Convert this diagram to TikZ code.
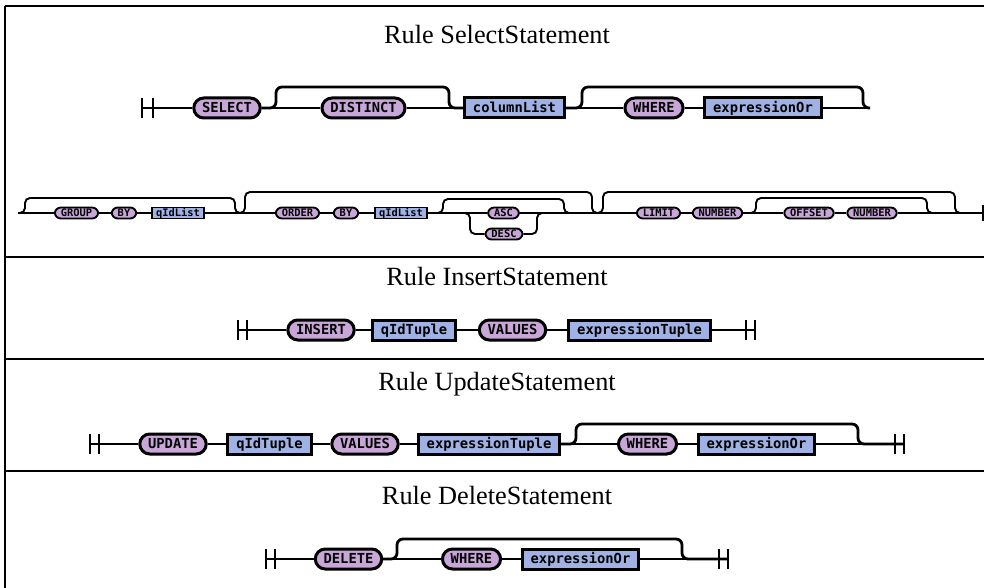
\documentclass[tikz,border=0pt]{standalone}
\usepackage{fontspec}
\setmainfont{Liberation Serif}
\setmonofont{DejaVu Sans Mono}
\definecolor{termfill}{RGB}{200,166,216}
\definecolor{ntfill}{RGB}{160,178,228}

\begin{document}
\begin{tikzpicture}[x=1pt,y=-1pt,
    frame/.style={line width=1.3pt},
    title/.style={anchor=base,font=\fontsize{26.3}{30}\selectfont},
    rail/.style={line width=2.8pt},
    srail/.style={line width=1.9pt},
    term/.style={draw,fill=termfill,rounded corners=10pt,line width=3pt,
        minimum height=20pt,inner xsep=8.3pt,inner ysep=0pt,
        text height=9pt,text depth=0pt,
        font=\ttfamily\bfseries\fontsize{13.8}{14}\selectfont},
    nterm/.style={term,fill=ntfill,rounded corners=0pt,inner xsep=8.3pt},
    sterm/.style={draw,fill=termfill,rounded corners=6pt,line width=1.9pt,
        minimum height=11pt,inner xsep=6pt,inner ysep=0pt,
        text height=7pt,text depth=0pt,
        font=\ttfamily\bfseries\fontsize{10.4}{11}\selectfont},
    snterm/.style={sterm,fill=ntfill,rounded corners=0pt,inner xsep=4pt}]
\useasboundingbox (0,0) rectangle (984,588);

% table lines
\draw[frame] (5,6) -- (984,6);
\draw[frame] (5,6) -- (5,588);
\draw[frame] (5,257) -- (984,257);
\draw[frame] (5,359) -- (984,359);
\draw[frame] (5,471) -- (984,471);

% titles
\node[title] (t1) at (497,44) {Rule SelectStatement};
\node[title] (t2) at (497,285) {Rule InsertStatement};
\node[title] (t3) at (497,390) {Rule UpdateStatement};
\node[title] (t4) at (497,504) {Rule DeleteStatement};

% SelectStatement, first line
\draw[rail] (142,98) -- (142,118);
\draw[rail] (153,98) -- (153,118);
\coordinate (s1) at (142,108);
\coordinate (r1e) at (870,108);
\node[term] (sel) at (227,108) {SELECT};
\node[term] (dist) at (363.5,108) {DISTINCT};
\node[nterm] (collist) at (514.5,108) {columnList};
\node[term] (where1) at (654,108) {WHERE};
\node[nterm] (expr1) at (763,108) {expressionOr};
\draw[rail] (s1) -- (sel) -- (dist) -- (collist) -- (where1) -- (expr1) -- (r1e);
\draw[rail,rounded corners=6pt] (sel.east) -| (276,87) -| (449,108) -- (collist.west);
\draw[rail,rounded corners=6pt] (collist.east) -| (582,87) -| (863,108) -- (r1e);

% SelectStatement, second line
\coordinate (r2s) at (18,213);
\coordinate (r2e) at (983,213);
\draw[srail] (983,205) -- (983,221);
\node[sterm] (grp) at (76.5,213) {GROUP};
\node[sterm] (by1) at (124,213) {BY};
\node[snterm] (qid1) at (178,213) {qIdList};
\node[sterm] (ord) at (297.5,213) {ORDER};
\node[sterm] (by2) at (346,213) {BY};
\node[snterm] (qid2) at (401,213) {qIdList};
\node[sterm] (asc) at (503.5,213) {ASC};
\node[sterm] (desc) at (504,234) {DESC};
\node[sterm] (lim) at (658.5,213) {LIMIT};
\node[sterm] (num1) at (717.5,213) {NUMBER};
\node[sterm] (off) at (809,213) {OFFSET};
\node[sterm] (num2) at (872,213) {NUMBER};
\draw[srail] (r2s) -- (grp) -- (by1) -- (qid1) -- (ord) -- (by2) -- (qid2) -- (asc) -- (lim)
    -- (num1) -- (off) -- (num2) -- (r2e);
\draw[srail,rounded corners=5pt] (r2s) -| (25,198) -| (235,213) -- (ord.west);
\draw[srail,rounded corners=5pt] (qid1.east) -| (245,192) -| (592,213) -- (lim.west);
\draw[srail,rounded corners=5pt] (qid2.east) -| (443,199) -| (564,213) -- (lim.west);
\draw[srail,rounded corners=5pt] (qid2.east) -| (470,234) -- (desc.west);
\draw[srail,rounded corners=5pt] (desc.east) -| (537,213) -- (lim.west);
\draw[srail,rounded corners=5pt] (asc.east) -| (603,192) -| (955,213) -- (r2e);
\draw[srail,rounded corners=5pt] (num1.east) -| (756,198) -| (927,213) -- (r2e);

% InsertStatement
\draw[rail] (238,320) -- (238,340);
\draw[rail] (247,320) -- (247,340);
\draw[rail] (746,320) -- (746,340);
\draw[rail] (755,320) -- (755,340);
\coordinate (s3) at (238,330);
\coordinate (e3) at (755,330);
\node[term] (ins) at (321,330) {INSERT};
\node[nterm] (qtup1) at (414,330) {qIdTuple};
\node[term] (val1) at (512.5,330) {VALUES};
\node[nterm] (etup1) at (639.5,330) {expressionTuple};
\draw[rail] (s3) -- (ins) -- (qtup1) -- (val1) -- (etup1) -- (e3);

% UpdateStatement
\draw[rail] (90,434) -- (90,454);
\draw[rail] (99,434) -- (99,454);
\draw[rail] (895,434) -- (895,454);
\draw[rail] (904,434) -- (904,454);
\coordinate (s4) at (90,444);
\coordinate (e4) at (904,444);
\node[term] (upd) at (173,444) {UPDATE};
\node[nterm] (qtup2) at (269.5,444) {qIdTuple};
\node[term] (val2) at (365,444) {VALUES};
\node[nterm] (etup2) at (489,444) {expressionTuple};
\node[term] (where2) at (647.5,444) {WHERE};
\node[nterm] (expr2) at (756.5,444) {expressionOr};
\draw[rail] (s4) -- (upd) -- (qtup2) -- (val2) -- (etup2) -- (where2) -- (expr2) -- (e4);
\draw[rail,rounded corners=6pt] (etup2.east) -| (576,424) -| (858,444) -- (e4);

% DeleteStatement
\draw[rail] (266,549) -- (266,569);
\draw[rail] (275,549) -- (275,569);
\draw[rail] (719,549) -- (719,569);
\draw[rail] (728,549) -- (728,569);
\coordinate (s5) at (266,559);
\coordinate (e5) at (728,559);
\node[term] (del) at (348.5,559) {DELETE};
\node[term] (where3) at (471.5,559) {WHERE};
\node[nterm] (expr3) at (580.5,559) {expressionOr};
\draw[rail] (s5) -- (del) -- (where3) -- (expr3) -- (e5);
\draw[rail,rounded corners=6pt] (del.east) -| (397,539) -| (682,559) -- (e5);
\end{tikzpicture}
\end{document}
